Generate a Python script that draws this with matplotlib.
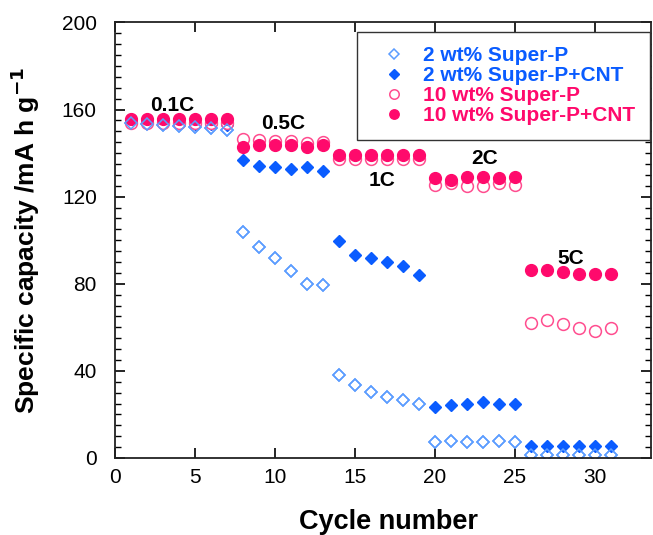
import numpy as np
import matplotlib.pyplot as plt
from matplotlib.ticker import MultipleLocator, FixedLocator

plt.rcParams['font.family'] = ['Liberation Sans', 'DejaVu Sans']

cycles = np.arange(1, 32)

# 2 wt% Super-P (open diamonds)
sp2 = [154, 153.5, 153, 152.5, 152, 151.5, 150.5,
       104, 97, 92, 86, 80, 79.5,
       38, 33.5, 30.5, 28, 26.5, 25,
       7.5, 8, 7.5, 7.5, 8, 7.5,
       1.5, 1.5, 1.5, 1.5, 1.5, 1.5]
# 2 wt% Super-P+CNT (filled diamonds)
sp2_cnt = [154.5, 154.5, 154, 154, 153.5, 153.5, 153,
           137, 134, 133.5, 132.5, 133.5, 132,
           99.5, 93, 92, 90, 88, 84,
           23.5, 24.5, 25, 25.5, 25, 25,
           5.5, 5.5, 5.5, 5.5, 5.5, 5.5]
# 10 wt% Super-P (open circles)
sp10 = [154, 154, 154, 154, 154, 154, 154,
        146.5, 146, 145.5, 145.5, 144.5, 145,
        137.5, 137.5, 137.5, 137.5, 137.5, 137.5,
        125.5, 126.5, 125, 125, 126.5, 125.5,
        62, 63.5, 61.5, 59.5, 58.5, 59.5]
# 10 wt% Super-P+CNT (filled circles)
sp10_cnt = [155.5, 155.5, 155.5, 155.5, 155.5, 155.5, 155.5,
            143, 143.5, 143.5, 143.5, 143, 143.5,
            139, 139, 139, 139, 139, 139,
            128.5, 127.5, 129, 129, 128.5, 129,
            86.5, 86.5, 85.5, 84.5, 84.5, 84.5]

rate_labels = ['0.1C', '0.5C', '1C', '2C', '5C']
rate_x = [3.6, 10.5, 16.7, 23.1, 28.5]
rate_y = [162, 153.5, 127.5, 137.5, 91.5]

blue = '#0a5cff'
lightblue = '#5c9dff'
pink = '#ff0a6c'
lightpink = '#ff4d8f'

fig = plt.figure(figsize=(6.53, 5.35), dpi=100)
ax = fig.add_axes([0.176, 0.144, 0.821, 0.814])

h1, = ax.plot(cycles, sp2, 'D', ms=6.5, mfc='white', mec=lightblue, mew=1.1, ls='none',
              label='2 wt% Super-P')
h2, = ax.plot(cycles, sp2_cnt, 'D', ms=6.5, mfc=blue, mec=blue, ls='none',
              label='2 wt% Super-P+CNT')
h3, = ax.plot(cycles, sp10, 'o', ms=8.5, mfc='white', mec=lightpink, mew=1.1, ls='none',
              label='10 wt% Super-P')
h4, = ax.plot(cycles, sp10_cnt, 'o', ms=8.5, mfc=pink, mec=pink, ls='none',
              label='10 wt% Super-P+CNT')
# keep the open symbols visible on top where they overlap
ax.plot(cycles, sp2, 'D', ms=6.5, mfc='none', mec=lightblue, mew=1.1, ls='none')

for t, x, y in zip(rate_labels, rate_x, rate_y):
    ax.text(x, y, t, fontsize=15, fontweight='bold', ha='center', va='center')

ax.set_xlim(0, 33.5)
ax.set_ylim(0, 200)
ax.xaxis.set_major_locator(FixedLocator([0, 5, 10, 15, 20, 25, 30]))
ax.yaxis.set_major_locator(MultipleLocator(40))
ax.yaxis.set_minor_locator(MultipleLocator(5))
ax.tick_params(which='both', direction='in', top=True, right=True, labelsize=15)
ax.tick_params(axis='y', pad=13)
ax.tick_params(axis='x', pad=7)
ax.tick_params(which='major', length=7, width=1.2)
ax.tick_params(which='minor', length=4, width=1)
for s in ax.spines.values():
    s.set_linewidth(1.3)
    s.set_color('#222222')

ax.set_xlabel('Cycle number', fontsize=19.5, fontweight='bold')
ax.xaxis.set_label_coords(0.51, -0.118)
ax.set_ylabel('Specific capacity /mA h g$^{\\mathbf{-1}}$', fontsize=19, fontweight='bold', labelpad=14)

leg = ax.legend(handles=[h1, h2, h3, h4], loc='upper right', bbox_to_anchor=(0.998, 0.979),
                borderaxespad=0, prop={'weight': 'bold', 'size': 15},
                labelcolor=[blue, blue, pink, pink], fancybox=False, framealpha=1,
                edgecolor='#333333', handletextpad=0.3, labelspacing=0.05,
                borderpad=0.7, markerscale=0.8, handlelength=2.2)
leg.get_frame().set_linewidth(1)

fig.savefig('out.png', dpi=100)
